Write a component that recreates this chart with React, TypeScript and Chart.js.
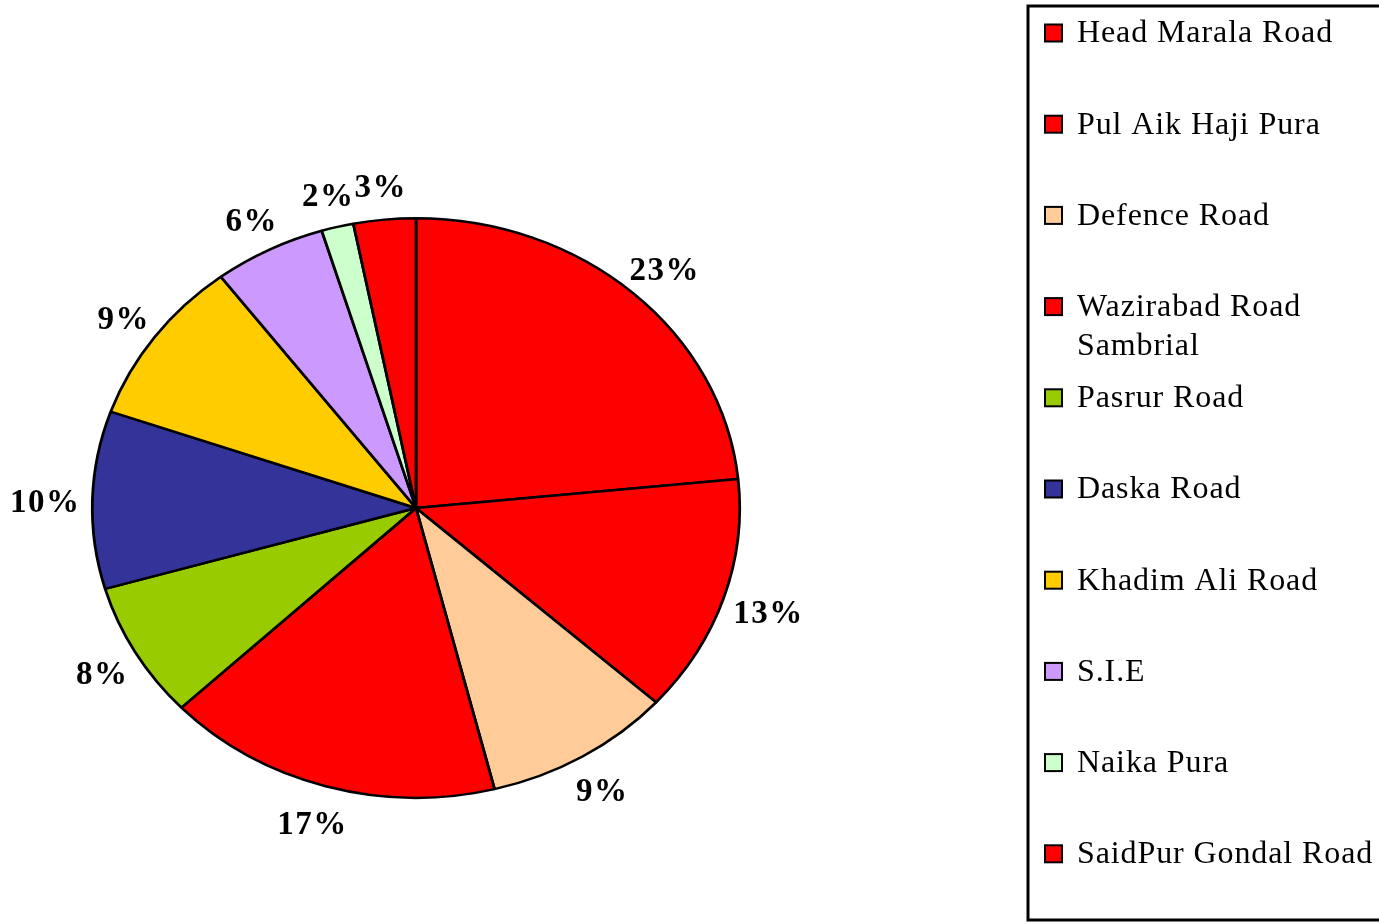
import React, { useEffect, useRef } from "react";
import { Chart, registerables } from "chart.js";

Chart.register(...registerables);

const CATEGORIES = [
  "Head Marala Road",
  "Pul Aik Haji Pura",
  "Defence Road",
  "Wazirabad Road Sambrial",
  "Pasrur Road",
  "Daska Road",
  "Khadim Ali Road",
  "S.I.E",
  "Naika Pura",
  "SaidPur Gondal Road",
];
const VALUES = [23.4, 13.3, 9.4, 16.8, 7.6, 9.9, 9.3, 5.6, 1.6, 3.1];
const COLORS = [
  "#FF0000",
  "#FF0000",
  "#FFCC99",
  "#FF0000",
  "#99CC00",
  "#333399",
  "#FFCC00",
  "#CC99FF",
  "#CCFFCC",
  "#FF0000",
];

const W = 1379;
const H = 924;
const CX = 416;
const CY = 508;
const RY = 290;
const RX = 324;
const SX = RX / RY;
const FONT = "'Liberation Serif', 'Times New Roman', serif";

const ellipsePlugin = {
  id: "ellipse",
  beforeDatasetsDraw(chart: any) {
    const arc = chart.getDatasetMeta(0).data[0];
    const ctx = chart.ctx;
    ctx.save();
    ctx.translate(arc.x, arc.y);
    ctx.scale(SX, 1);
    ctx.translate(-arc.x, -arc.y);
  },
  afterDatasetsDraw(chart: any) {
    chart.ctx.restore();
  },
};

const labelPlugin = {
  id: "pctLabels",
  afterDraw(chart: any) {
    const ctx = chart.ctx;
    const meta = chart.getDatasetMeta(0);
    const total = VALUES.reduce((a, b) => a + b, 0);
    ctx.save();
    ctx.font = `bold 33px ${FONT}`;
    (ctx as any).letterSpacing = "1.5px";
    ctx.fillStyle = "#000";
    ctx.textAlign = "center";
    ctx.textBaseline = "middle";
    meta.data.forEach((arc: any, i: number) => {
      const mid = (arc.startAngle + arc.endAngle) / 2;
      const c = Math.cos(mid);
      const s = Math.sin(mid);
      const rx = arc.outerRadius * SX;
      const ry = arc.outerRadius;
      const ex = arc.x + rx * c;
      const ey = arc.y + ry * s;
      const txt = Math.round((VALUES[i] / total) * 100) + "%";
      const w = ctx.measureText(txt).width;
      const x = ex + (12 + w / 2) * c;
      const y = ey + 36 * s + 5;
      ctx.fillText(txt, x, y);
    });
    ctx.restore();
  },
};

const legendPlugin = {
  id: "boxLegend",
  afterDraw(chart: any) {
    const ctx = chart.ctx;
    ctx.save();
    ctx.strokeStyle = "#000";
    ctx.lineWidth = 3;
    ctx.strokeRect(1028, 6, 400, 914);
    ctx.font = `32px ${FONT}`;
    (ctx as any).letterSpacing = "0.9px";
    ctx.textBaseline = "middle";
    ctx.textAlign = "left";
    const textX = 1077;
    const maxW = 320;
    CATEGORIES.forEach((name, i) => {
      const y = 33 + i * 91.2;
      ctx.fillStyle = COLORS[i];
      ctx.fillRect(1045, y - 8.5, 17, 17);
      ctx.lineWidth = 2;
      ctx.strokeStyle = "#000";
      ctx.strokeRect(1045, y - 8.5, 17, 17);
      const words = name.split(" ");
      const lines: string[] = [];
      let cur = "";
      const limit = i === 3 ? 240 : maxW;
      words.forEach((wd) => {
        const test = cur ? cur + " " + wd : wd;
        if (ctx.measureText(test).width > limit && cur) {
          lines.push(cur);
          cur = wd;
        } else {
          cur = test;
        }
      });
      if (cur) lines.push(cur);
      ctx.fillStyle = "#000";
      lines.forEach((ln, j) => {
        ctx.fillText(ln, textX, y + 1 + j * 39);
      });
    });
    ctx.restore();
  },
};

export default function App() {
  const ref = useRef<HTMLCanvasElement | null>(null);
  useEffect(() => {
    if (!ref.current) return;
    const chart = new Chart(ref.current, {
      type: "pie",
      data: {
        labels: CATEGORIES,
        datasets: [
          {
            data: VALUES,
            backgroundColor: COLORS,
            borderColor: "#000",
            borderWidth: 2.5,
            clip: false,
          } as any,
        ],
      },
      options: {
        responsive: false,
        animation: false,
        layout: {
          padding: {
            left: CX - (RY + 1),
            right: W - (CX + RY + 1),
            top: CY - (RY + 1),
            bottom: H - (CY + RY + 1),
          },
        },
        plugins: {
          legend: { display: false },
          tooltip: { enabled: false },
        },
      },
      plugins: [ellipsePlugin, labelPlugin, legendPlugin],
    });
    return () => chart.destroy();
  }, []);
  return (
    <div style={{ position: "fixed", left: 0, top: 0, width: W, height: H, background: "#fff" }}>
      <canvas ref={ref} width={W} height={H} style={{ display: "block" }} />
    </div>
  );
}
